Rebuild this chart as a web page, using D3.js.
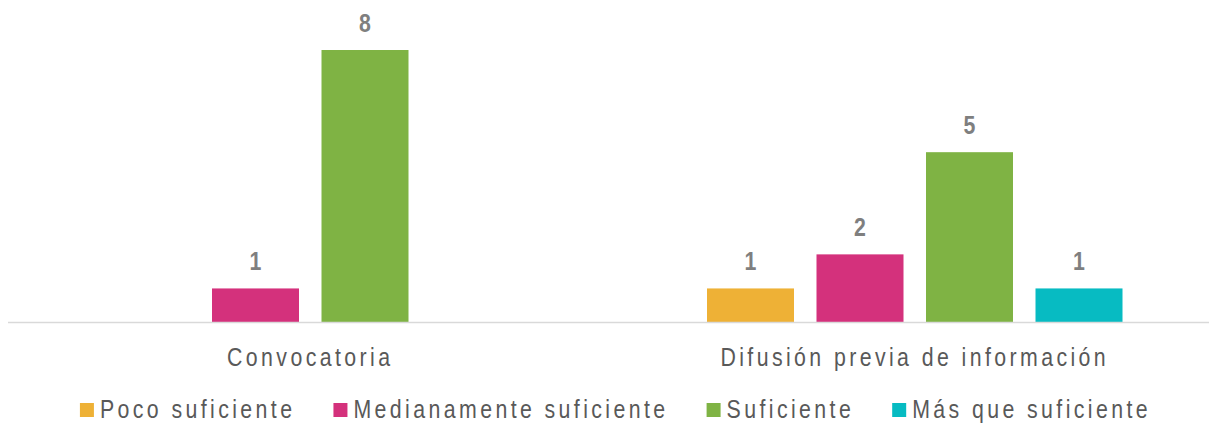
<!DOCTYPE html>
<html><head><meta charset="utf-8">
<script src="https://cdn.jsdelivr.net/npm/d3@7"></script>
<style>
body{margin:0;background:#fff;}
svg{display:block;}
</style></head>
<body><svg id="chart" width="1209" height="424"></svg>
<script>
const categories = ["Convocatoria", "Difusión previa de información"];
const seriesNames = ["Poco suficiente", "Medianamente suficiente", "Suficiente", "Más que suficiente"];
const seriesColors = ["#EEB136", "#D4317C", "#7FB344", "#07BBC2"];
const pocoSuficiente = [null, 1];
const medianamenteSuficiente = [1, 2];
const suficiente = [8, 5];
const masQueSuficiente = [null, 1];
const seriesValues = [pocoSuficiente, medianamenteSuficiente, suficiente, masQueSuficiente];

const fontFam = "'Liberation Sans',Arial,sans-serif";
const SX = 0.82;              // horizontal squeeze to mimic a narrow face
const LS = (3.4 / SX) + "px"; // letter spacing before squeeze
const svg = d3.select("#chart");
const baseY = 322.5, topY = 50;

const x0 = d3.scaleBand().domain(categories).range([8, 1217]).paddingInner(0).paddingOuter(0);
const x1 = d3.scaleBand().domain(seriesNames).range([0, x0.bandwidth()]).paddingInner(0.2055).paddingOuter(0.863);
const y = d3.scaleLinear().domain([0, 8]).range([baseY, topY]);

const data = [];
categories.forEach((c, ci) => seriesNames.forEach((s, si) => {
  const v = seriesValues[si][ci];
  if (v != null) data.push({c, s, v, color: seriesColors[si]});
}));

svg.append("g").selectAll("rect").data(data).join("rect")
  .attr("x", d => x0(d.c) + x1(d.s))
  .attr("y", d => y(d.v))
  .attr("width", x1.bandwidth())
  .attr("height", d => y(0) - y(d.v))
  .attr("fill", d => d.color);

svg.append("g").selectAll("text").data(data).join("text")
  .attr("transform", d => `translate(${x0(d.c) + x1(d.s) + x1.bandwidth() / 2},${y(d.v) - 18}) scale(${SX},1)`)
  .attr("text-anchor", "middle")
  .attr("font-family", fontFam)
  .attr("font-weight", "bold")
  .attr("font-size", 26)
  .attr("fill", "#7F7F7F")
  .text(d => d.v);

// x axis
const xAxis = d3.axisBottom(x0).tickSize(0).tickPadding(0);
const ax = svg.append("g").attr("transform", `translate(0,${baseY})`).call(xAxis);
ax.select(".domain").attr("stroke", "#D9D9D9").attr("stroke-width", 1.5).attr("d", "M8,0H1209");
ax.selectAll(".tick text")
  .attr("y", 0).attr("dy", 0)
  .attr("transform", `translate(0,43.5) scale(${SX},1)`)
  .attr("font-family", fontFam)
  .attr("font-size", 26)
  .attr("letter-spacing", LS)
  .attr("fill", "#595959");

// legend
const leg = svg.append("g");
const items = leg.selectAll("g").data(seriesNames).join("g");
items.append("rect").attr("width", 14).attr("height", 14).attr("y", 403)
  .attr("fill", (d, i) => seriesColors[i]);
items.append("text").attr("transform", `translate(20,417.5) scale(${SX},1)`)
  .attr("font-family", fontFam).attr("font-size", 26)
  .attr("letter-spacing", LS).attr("fill", "#595959").text(d => d);
let widths = [];
items.each(function(){ widths.push(20 + SX * d3.select(this).select("text").node().getComputedTextLength()); });
const gap = 38;
const total = d3.sum(widths) + gap * (widths.length - 1);
let cx = 615.5 - total / 2;
items.attr("transform", (d, i) => { const t = `translate(${cx},0)`; cx += widths[i] + gap; return t; });
</script></body></html>
